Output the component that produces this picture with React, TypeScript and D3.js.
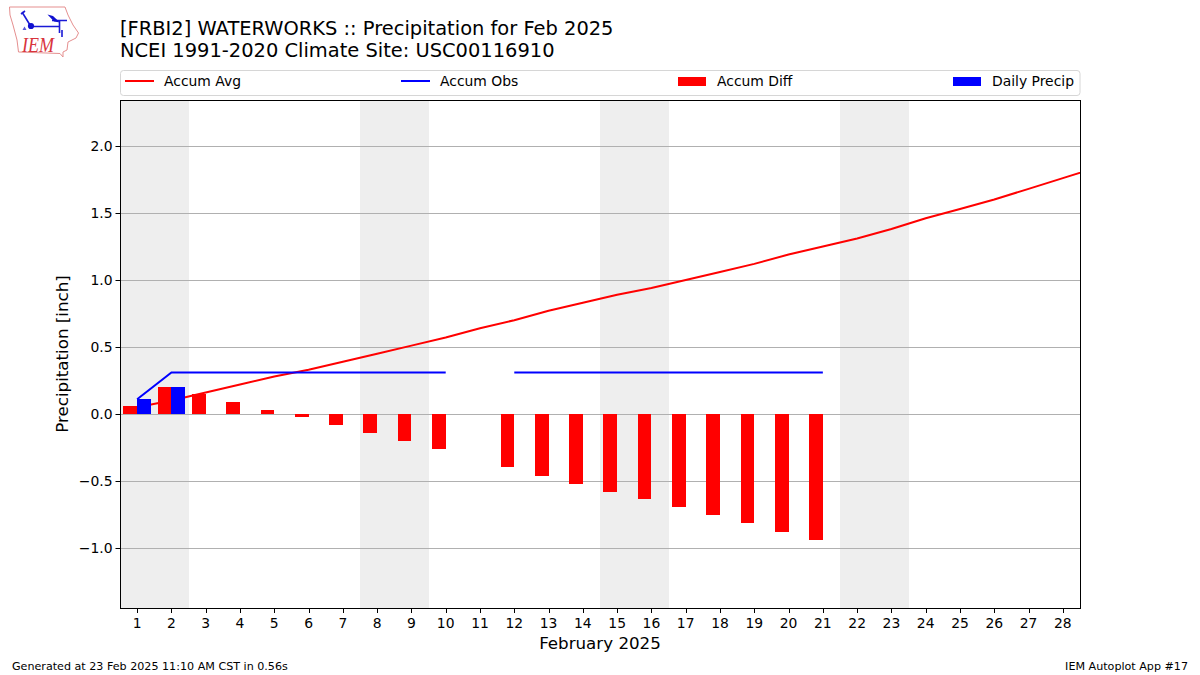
import React from "react";
import * as d3 from "d3";

const days = d3.range(1, 29);
const accumAvg = [0.05,0.10,0.16,0.22,0.28,0.33,0.39,0.45,0.51,0.57,0.64,0.70,0.77,0.83,0.89,0.94,1.00,1.06,1.12,1.19,1.25,1.31,1.38,1.46,1.53,1.60,1.68,1.76,1.84];
const accumObs: (number|null)[] = [0.11,0.31,0.31,0.31,0.31,0.31,0.31,0.31,0.31,0.31,null,0.31,0.31,0.31,0.31,0.31,0.31,0.31,0.31,0.31,0.31];
const accumDiff: (number|null)[] = [0.06,0.20,0.15,0.09,0.03,-0.02,-0.08,-0.14,-0.20,-0.26,null,-0.395,-0.46,-0.52,-0.58,-0.635,-0.695,-0.755,-0.815,-0.88,-0.94];
const dailyPrecip = [0.11,0.20];
const weekends = [1,8,15,22];
const yTicks = [-1.0,-0.5,0,0.5,1.0,1.5,2.0];
const legendItems = [
  {label:"Accum Avg",kind:"line",color:"#ff0000",x:125},
  {label:"Accum Obs",kind:"line",color:"#0000ff",x:401},
  {label:"Accum Diff",kind:"bar",color:"#ff0000",x:678},
  {label:"Daily Precip",kind:"bar",color:"#0000ff",x:953},
];
const titleLines = ["[FRBI2] WATERWORKS :: Precipitation for Feb 2025","NCEI 1991-2020 Climate Site: USC00116910"];

const L=120,R=1080,T=100,B=608;
const x=d3.scaleLinear().domain([0.5,28.5]).range([L,R]);
const y=d3.scaleLinear().domain([-1.448,2.343]).range([B,T]);
const font="'DejaVu Sans', sans-serif";
const line=d3.line<number|null>().defined(d=>d!==null).x((_,i)=>x(i+1)).y(d=>y(d as number));
const fmt=(v:number)=>v.toFixed(1).replace("-","\u2212");
const snap=(v:number)=>Math.round(v)+0.5;
const r=Math.round;

export default function App(){
  return (
    <svg width={1200} height={675} style={{position:"absolute",left:0,top:0,background:"#fff"}} fontFamily={font}>
      <defs><clipPath id="plot"><rect x={L} y={T} width={R-L} height={B-T}/></clipPath></defs>
      {/* logo */}
      <g>
        <path d="M9.5,7 L65,7 L68,15 L73,25 L78.5,33 L76,38 L68,42 L67,50 L63,52 L63,57 L60,53.5 L18.5,52 L17,40 L13,25 L10,15 Z" fill="#fff" stroke="#e58f8f" strokeWidth={1}/>
        <path d="M31,26.5 L59,26.5 M22,12 L30,25 M21,14 L25,11 M52,20.5 L67,20.5 M59.5,21 L59.5,33 M62,30 L62,37" stroke="#1a1ad6" strokeWidth={1.6} fill="none"/>
        <circle cx={31} cy={26} r={3.1} fill="#1010d0"/>
        <path d="M47.5,14.5 L53,16 L60,22.5 L54,21.5 Z" fill="#1010d0"/>
        <path d="M22.5,30 L24.5,26.5 L26.5,30 Z" fill="#5a5ad8"/>
        <text x={22} y={52} fontFamily="'Liberation Serif', serif" fontStyle="italic" fontSize={22} fill="#d8343c" textLength={32} lengthAdjust="spacingAndGlyphs">IEM</text>
      </g>
      {titleLines.map((t,i)=><text key={t} x={120} y={35+i*22} fontSize={19.45} fill="#000">{t}</text>)}
      {/* legend */}
      <rect x={120.5} y={70.5} width={959.5} height={25} rx={3} fill="#fff" stroke="#d6d6d6" strokeWidth={1}/>
      {legendItems.map(it=>(
        <g key={it.label}>
          {it.kind==="line"
            ? <line x1={it.x} x2={it.x+29} y1={81} y2={81} stroke={it.color} strokeWidth={2}/>
            : <rect x={it.x} y={77} width={28} height={9} fill={it.color}/>}
          <text x={it.x+39} y={86} fontSize={13.9}>{it.label}</text>
        </g>
      ))}
      {/* weekends */}
      {weekends.map(d=><rect key={d} x={r(x(d-0.5))} y={T} width={r(x(d+1.5))-r(x(d-0.5))} height={B-T} fill="#eeeeee"/>)}
      {/* grid */}
      {yTicks.map(t=><line key={t} x1={L} x2={R} y1={snap(y(t))} y2={snap(y(t))} stroke="#b0b0b0" strokeWidth={1}/>)}
      <g clipPath="url(#plot)">
        <path d={line(accumAvg)||""} fill="none" stroke="#ff0000" strokeWidth={2}/>
        {accumDiff.map((v,i)=>{
          if(v===null) return null;
          const top=r(y(Math.max(v,0))), bot=r(y(Math.min(v,0)));
          return <rect key={i} x={r(x(i+0.6))} width={r(x(i+1))-r(x(i+0.6))} y={top} height={bot-top} fill="#ff0000"/>;
        })}
        {dailyPrecip.map((v,i)=>(
          <rect key={i} x={r(x(i+1))} width={r(x(i+1.4))-r(x(i+1))} y={r(y(v))} height={r(y(0))-r(y(v))} fill="#0000ff"/>
        ))}
        <path d={line(accumObs)||""} fill="none" stroke="#0000ff" strokeWidth={2}/>
      </g>
      {/* frame */}
      <rect x={L+0.5} y={T+0.5} width={R-L} height={B-T} fill="none" stroke="#000" strokeWidth={1}/>
      {/* y axis */}
      {yTicks.map(t=>(
        <g key={t}>
          <line x1={L-4.5} x2={L+0.5} y1={snap(y(t))} y2={snap(y(t))} stroke="#000" strokeWidth={1}/>
          <text x={L-7.5} y={y(t)+5} textAnchor="end" fontSize={13.9}>{fmt(t)}</text>
        </g>
      ))}
      <text transform={`translate(67.5,${(T+B)/2}) rotate(-90)`} textAnchor="middle" fontSize={16.7}>Precipitation [inch]</text>
      {/* x axis */}
      {days.map(d=>(
        <g key={d}>
          <line x1={snap(x(d))} x2={snap(x(d))} y1={B} y2={B+5} stroke="#000" strokeWidth={1}/>
          <text x={x(d)} y={B+20} textAnchor="middle" fontSize={13.9}>{d}</text>
        </g>
      ))}
      <text x={(L+R)/2} y={649} textAnchor="middle" fontSize={16.7}>February 2025</text>
      <text x={12} y={670} fontSize={11.13}>Generated at 23 Feb 2025 11:10 AM CST in 0.56s</text>
      <text x={1188} y={670} textAnchor="end" fontSize={11.13}>IEM Autoplot App #17</text>
    </svg>
  );
}
